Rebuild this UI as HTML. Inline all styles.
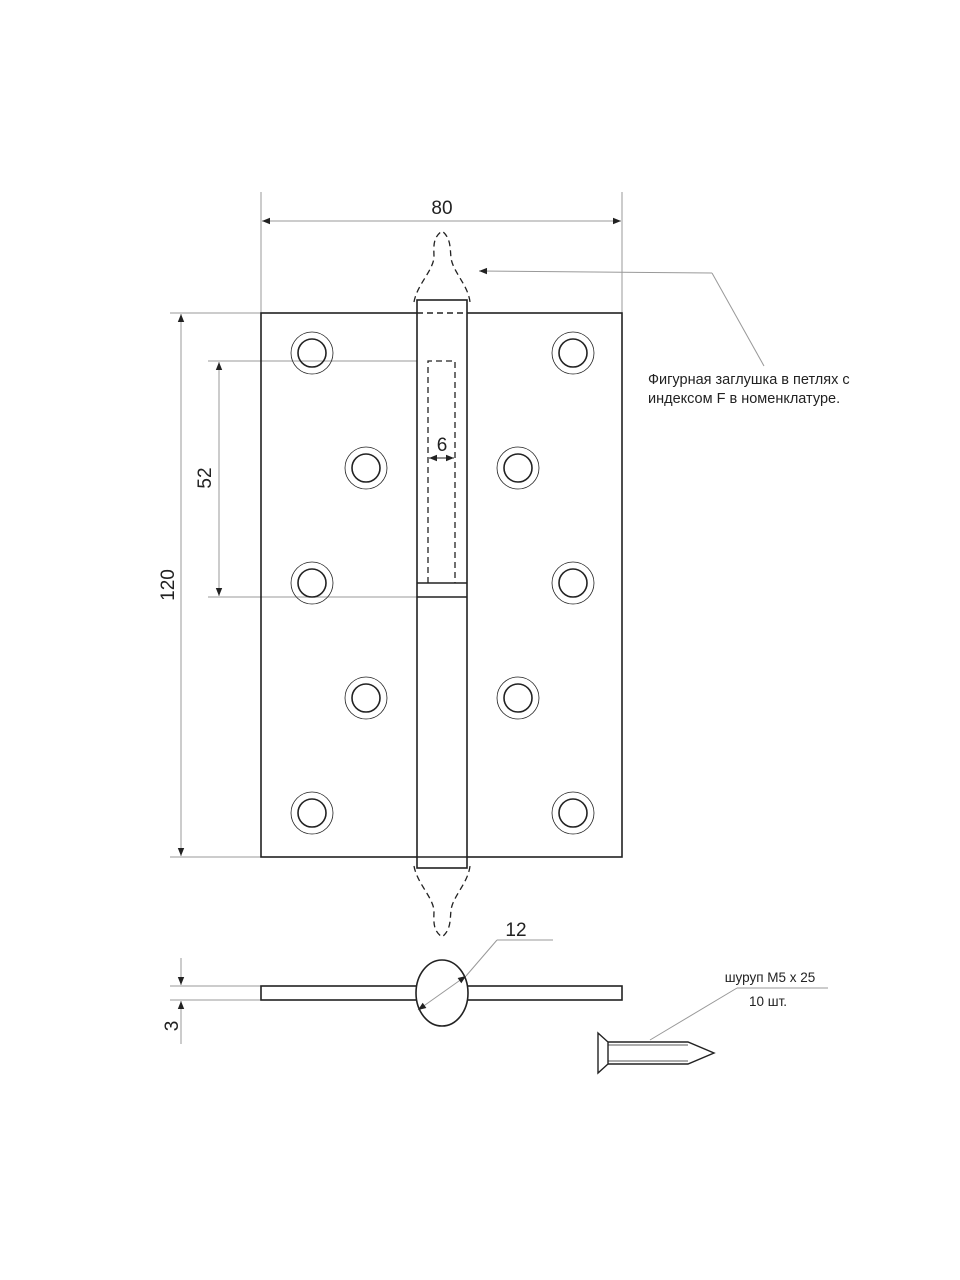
<!DOCTYPE html>
<html><head><meta charset="utf-8"><style>
html,body{margin:0;padding:0;background:#fff;}
svg{display:block;}
text{font-family:"Liberation Sans",sans-serif;fill:#222;}
</style></head><body>
<svg width="960" height="1280" viewBox="0 0 960 1280" xmlns="http://www.w3.org/2000/svg">
<defs>
<marker id="a" viewBox="0 0 10 10" refX="10" refY="5" markerWidth="10" markerHeight="8" orient="auto-start-reverse" markerUnits="userSpaceOnUse"><path d="M0,1 L10,5 L0,9 Z" fill="#222"/></marker>
</defs>
<g fill="none" stroke="#999" stroke-width="1">
<line x1="261" y1="192" x2="261" y2="313"/>
<line x1="622" y1="192" x2="622" y2="313"/>
<line x1="262" y1="221" x2="621" y2="221" marker-start="url(#a)" marker-end="url(#a)"/>
<line x1="170" y1="313" x2="261" y2="313"/>
<line x1="170" y1="857" x2="261" y2="857"/>
<line x1="181" y1="314" x2="181" y2="856" marker-start="url(#a)" marker-end="url(#a)"/>
<line x1="208" y1="361" x2="430" y2="361"/>
<line x1="208" y1="597" x2="417" y2="597"/>
<line x1="219" y1="362" x2="219" y2="596" marker-start="url(#a)" marker-end="url(#a)"/>
<line x1="479" y1="271" x2="712" y2="273" marker-start="url(#a)"/>
<line x1="712" y1="273" x2="764" y2="366"/>
<line x1="170" y1="986" x2="261" y2="986"/>
<line x1="170" y1="1000" x2="261" y2="1000"/>
<line x1="181" y1="958" x2="181" y2="985" marker-end="url(#a)"/>
<line x1="181" y1="1044" x2="181" y2="1001" marker-end="url(#a)"/>
<line x1="466" y1="976" x2="497" y2="940"/>
<line x1="497" y1="940" x2="553" y2="940"/>
<line x1="650" y1="1040" x2="737" y2="988"/>
<line x1="737" y1="988" x2="828" y2="988"/>
</g>
<g fill="none" stroke="#222" stroke-width="1.6">
<rect x="261" y="313" width="361" height="544"/>
<rect x="417" y="300" width="50" height="568" fill="#fff"/>
<line x1="417" y1="583" x2="467" y2="583"/>
<line x1="417" y1="597" x2="467" y2="597"/>
<line x1="417" y1="313" x2="467" y2="313" stroke-dasharray="6,4"/>
<line x1="417" y1="857" x2="467" y2="857"/>
</g>
<g fill="none" stroke="#222" stroke-width="1.3" stroke-dasharray="6,4">
<path d="M428,583 V361 H455 V583"/>
<path d="M414,302 C417,285 432,272 434,258 C434,248 432,238 442,231 C451,238 450,248 451,258 C453,272 468,285 470,302"/>
<path d="M414,866 C417,883 432,896 434,910 C434,920 432,930 442,937 C451,930 450,920 451,910 C453,896 468,883 470,866"/>
</g>
<line x1="429" y1="458" x2="454" y2="458" stroke="#222" stroke-width="1" marker-start="url(#a)" marker-end="url(#a)"/>
<g fill="none" stroke="#222">
<g stroke-width="0.8">
<circle cx="312" cy="353" r="21"/><circle cx="573" cy="353" r="21"/>
<circle cx="366" cy="468" r="21"/><circle cx="518" cy="468" r="21"/>
<circle cx="312" cy="583" r="21"/><circle cx="573" cy="583" r="21"/>
<circle cx="366" cy="698" r="21"/><circle cx="518" cy="698" r="21"/>
<circle cx="312" cy="813" r="21"/><circle cx="573" cy="813" r="21"/>
</g>
<g stroke-width="1.6">
<circle cx="312" cy="353" r="14"/><circle cx="573" cy="353" r="14"/>
<circle cx="366" cy="468" r="14"/><circle cx="518" cy="468" r="14"/>
<circle cx="312" cy="583" r="14"/><circle cx="573" cy="583" r="14"/>
<circle cx="366" cy="698" r="14"/><circle cx="518" cy="698" r="14"/>
<circle cx="312" cy="813" r="14"/><circle cx="573" cy="813" r="14"/>
</g>
<g stroke-width="1.6">
<rect x="261" y="986" width="361" height="14"/>
<ellipse cx="442" cy="993" rx="26" ry="33" fill="#fff"/>
</g>
<g stroke-width="1.4">
<path d="M598,1033 L608,1042 L608,1064 L598,1073 Z"/>
<path d="M608,1042 H688 L714,1053 L688,1064 H608"/>
<line x1="608" y1="1045" x2="688" y2="1045" stroke-width="0.8"/>
<line x1="608" y1="1061" x2="688" y2="1061" stroke-width="0.8"/>
</g>
</g>
<line x1="418" y1="1010" x2="466" y2="976" stroke="#999" stroke-width="1" marker-start="url(#a)" marker-end="url(#a)"/>
<text x="442" y="214" font-size="19" text-anchor="middle">80</text>
<text x="442" y="451" font-size="19" text-anchor="middle">6</text>
<text x="516" y="936" font-size="19" text-anchor="middle">12</text>
<text transform="translate(211,478) rotate(-90)" font-size="19" text-anchor="middle">52</text>
<text transform="translate(174,585) rotate(-90)" font-size="19" text-anchor="middle">120</text>
<text transform="translate(178,1026) rotate(-90)" font-size="19" text-anchor="middle">3</text>
<text x="648" y="384" font-size="14.5">Фигурная заглушка в петлях с</text>
<text x="648" y="403" font-size="14.5">индексом F в номенклатуре.</text>
<text x="770" y="982" font-size="13.5" text-anchor="middle">шуруп М5 х 25</text>
<text x="768" y="1006" font-size="13.5" text-anchor="middle">10 шт.</text>
</svg>
</body></html>
